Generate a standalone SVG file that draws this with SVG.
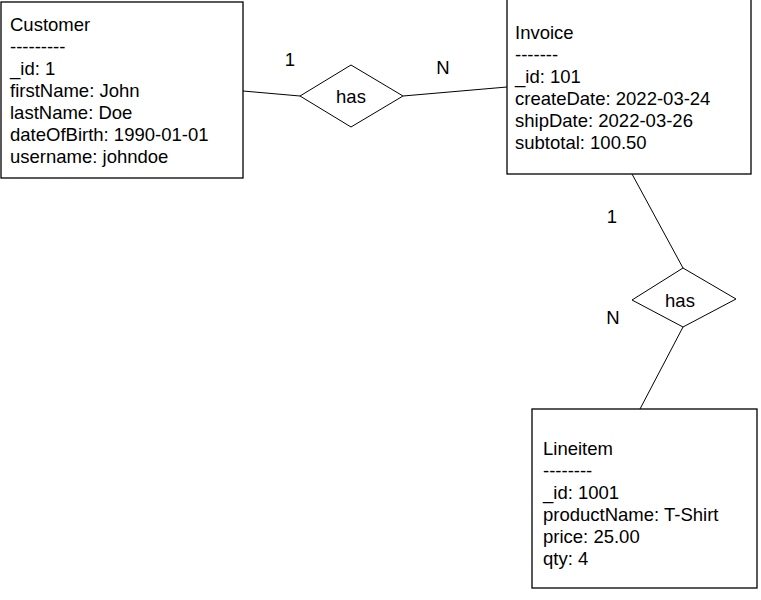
<svg xmlns="http://www.w3.org/2000/svg" width="761" height="600" viewBox="0 0 761 600">
<style>
.box{fill:#fff;stroke:#000;stroke-width:1.3}
.dia{fill:#fff;stroke:#000;stroke-width:1}
.t{font-family:"Liberation Sans",Arial,sans-serif;font-size:18.5px;fill:#000}
.c{text-anchor:middle}
.ln{stroke:#000;stroke-width:1;fill:none}
</style>
<rect width="761" height="600" fill="#fff"/>
<g id="connectors">
<line class="ln" x1="243" y1="91" x2="300" y2="96"/>
<line class="ln" x1="403" y1="96" x2="507" y2="87"/>
<line class="ln" x1="632" y1="174" x2="683" y2="268"/>
<line class="ln" x1="683" y1="327" x2="640" y2="409"/>
</g>
<g id="customer">
<rect class="box" x="1" y="2" width="242" height="176"/>
<text class="t" x="10" y="31">Customer</text>
<text class="t" x="10" y="53">---------</text>
<text class="t" x="10" y="75">_id: 1</text>
<text class="t" x="10" y="97">firstName: John</text>
<text class="t" x="10" y="119">lastName: Doe</text>
<text class="t" x="10" y="141">dateOfBirth: 1990-01-01</text>
<text class="t" x="10" y="163">username: johndoe</text>
</g>
<g id="invoice">
<rect class="box" x="507" y="-1" width="244" height="175"/>
<text class="t" x="515" y="39">Invoice</text>
<text class="t" x="515" y="61">-------</text>
<text class="t" x="515" y="83">_id: 101</text>
<text class="t" x="515" y="105">createDate: 2022-03-24</text>
<text class="t" x="515" y="127">shipDate: 2022-03-26</text>
<text class="t" x="515" y="149">subtotal: 100.50</text>
</g>
<g id="lineitem">
<rect class="box" x="532" y="409" width="225" height="179"/>
<text class="t" x="543" y="455">Lineitem</text>
<text class="t" x="543" y="477">--------</text>
<text class="t" x="543" y="499">_id: 1001</text>
<text class="t" x="543" y="521">productName: T-Shirt</text>
<text class="t" x="543" y="543">price: 25.00</text>
<text class="t" x="543" y="565">qty: 4</text>
</g>
<g id="has1">
<polygon class="dia" points="351,65 403,96 351,127 300,96"/>
<text class="t c" x="351" y="103">has</text>
</g>
<g id="has2">
<polygon class="dia" points="683,268 736,299 683,327 632,300"/>
<text class="t c" x="680" y="307">has</text>
</g>
<g id="labels">
<text class="t c" x="290" y="66">1</text>
<text class="t c" x="443" y="74">N</text>
<text class="t c" x="612" y="223">1</text>
<text class="t c" x="613" y="324">N</text>
</g>
</svg>
